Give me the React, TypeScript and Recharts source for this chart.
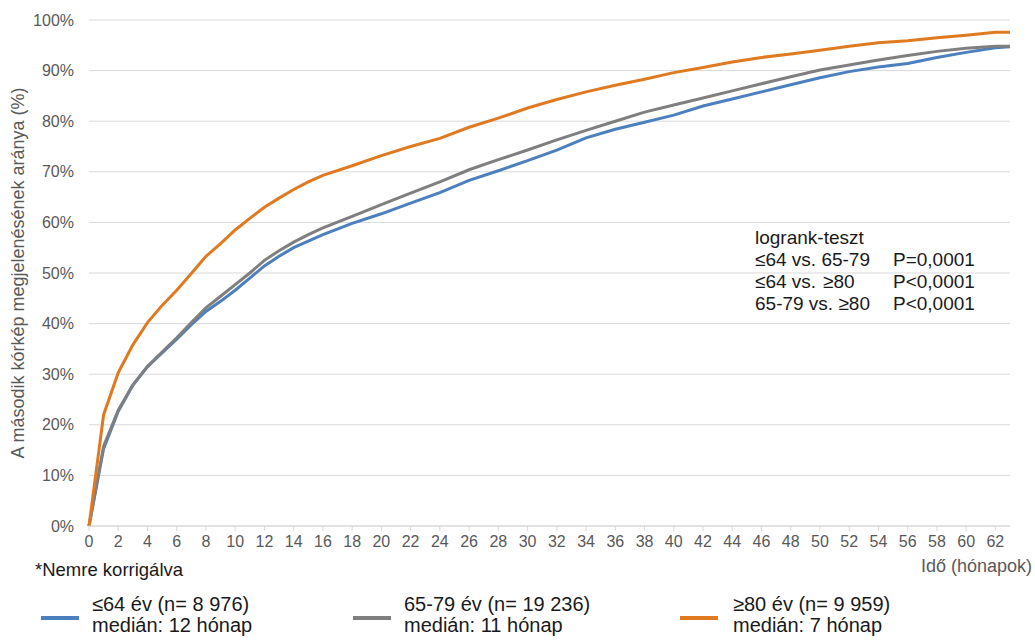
import React from 'react';
import { LineChart, Line, XAxis, YAxis, CartesianGrid } from 'recharts';

// months on the x axis (monthly early on, then every 2 months)
const months = [0, 1, 2, 3, 4, 5, 6, 7, 8, 9, 10, 11, 12, 13, 14, 15, 16, 18, 20, 22, 24, 26, 28, 30, 32, 34, 36, 38, 40, 42, 44, 46, 48, 50, 52, 54, 56, 58, 60, 62, 63];

// cumulative share (%) per age group
const age64 = [0, 15.3, 22.7, 27.8, 31.5, 34.2, 36.9, 39.8, 42.4, 44.4, 46.6, 49, 51.4, 53.3, 55, 56.3, 57.6, 59.8, 61.7, 63.8, 65.9, 68.3, 70.2, 72.2, 74.3, 76.7, 78.4, 79.8, 81.2, 83, 84.4, 85.8, 87.2, 88.6, 89.8, 90.7, 91.4, 92.6, 93.6, 94.5, 94.7];
const age6579 = [0, 15.8, 22.9, 27.9, 31.5, 34.4, 37.2, 40.2, 43.1, 45.4, 47.7, 50, 52.5, 54.4, 56.1, 57.6, 58.9, 61.2, 63.5, 65.8, 68, 70.4, 72.4, 74.3, 76.3, 78.2, 80, 81.8, 83.2, 84.6, 86, 87.4, 88.8, 90.1, 91.1, 92.1, 93, 93.8, 94.4, 94.8, 94.8];
const age80 = [0, 22, 30.3, 35.8, 40.2, 43.6, 46.6, 49.9, 53.3, 55.8, 58.5, 60.8, 63, 64.8, 66.5, 68, 69.3, 71.2, 73.2, 75, 76.6, 78.8, 80.6, 82.6, 84.3, 85.8, 87.1, 88.3, 89.6, 90.6, 91.7, 92.6, 93.3, 94, 94.8, 95.5, 95.9, 96.5, 97, 97.6, 97.6];

const xTicks = [0, 2, 4, 6, 8, 10, 12, 14, 16, 18, 20, 22, 24, 26, 28, 30, 32, 34, 36, 38, 40, 42, 44, 46, 48, 50, 52, 54, 56, 58, 60, 62];
const yTicks = [0, 10, 20, 30, 40, 50, 60, 70, 80, 90, 100];

const legendItems = [
  { line1: '≤64 év (n= 8 976)', line2: 'medián: 12 hónap', color: '#4c7fbd' },
  { line1: '65-79 év (n= 19 236)', line2: 'medián: 11 hónap', color: '#7f7f7f' },
  { line1: '≥80 év (n= 9 959)', line2: 'medián: 7 hónap', color: '#e07a20' },
];

const data = months.map((m, i) => ({
  month: m,
  a: age64[i],
  b: age6579[i],
  c: age80[i],
}));

const font = '"Liberation Sans", Arial, sans-serif';
const legendX = [
  { line: 41, text: 92 },
  { line: 353, text: 404 },
  { line: 680, text: 733 },
];

export default function App() {
  return (
    <div style={{ position: 'absolute', left: 0, top: 0, width: 1035, height: 640, background: '#fff', fontFamily: font }}>
      <LineChart width={1035} height={560} data={data} margin={{ top: 20, right: 25, left: 0, bottom: 0 }}>
        <CartesianGrid vertical={false} stroke="#d9d9d9" />
        <XAxis
          dataKey="month"
          type="number"
          domain={[0, 63]}
          ticks={xTicks}
          interval={0}
          height={34}
          stroke="#d9d9d9"
          tickSize={5}
          tickMargin={5}
          tick={{ fill: '#595959', fontSize: 16, fontFamily: font }}
        />
        <YAxis
          domain={[0, 100]}
          ticks={yTicks}
          width={89}
          axisLine={false}
          tickLine={false}
          tickSize={0}
          tickMargin={15}
          tickFormatter={(v) => `${v}%`}
          tick={{ fill: '#595959', fontSize: 16, fontFamily: font }}
          label={{
            value: 'A második kórkép megjelenésének aránya (%)',
            angle: -90,
            position: 'insideLeft',
            offset: 18,
            style: { textAnchor: 'middle', fill: '#595959', fontSize: 18, fontFamily: font },
          }}
        />
        <Line type="linear" dataKey="a" stroke="#4c7fbd" strokeWidth={3} dot={false} isAnimationActive={false} />
        <Line type="linear" dataKey="b" stroke="#7f7f7f" strokeWidth={3} dot={false} isAnimationActive={false} />
        <Line type="linear" dataKey="c" stroke="#e07a20" strokeWidth={3} dot={false} isAnimationActive={false} />
      </LineChart>

      {/* logrank annotation */}
      <div style={{ position: 'absolute', left: 755, top: 227, fontSize: 19, lineHeight: '22px', color: '#1a1a1a', whiteSpace: 'nowrap' }}>
        <div>logrank-teszt</div>
        <div style={{ position: 'relative', height: 22 }}>
          <span>≤64 vs. 65-79</span>
          <span style={{ position: 'absolute', left: 138 }}>P=0,0001</span>
        </div>
        <div style={{ position: 'relative', height: 22 }}>
          <span>≤64 vs.</span>
          <span style={{ position: 'absolute', left: 68 }}>≥80</span>
          <span style={{ position: 'absolute', left: 138 }}>P&lt;0,0001</span>
        </div>
        <div style={{ position: 'relative', height: 22 }}>
          <span>65-79 vs. ≥80</span>
          <span style={{ position: 'absolute', left: 138 }}>P&lt;0,0001</span>
        </div>
      </div>

      <div style={{ position: 'absolute', right: 3, top: 556, fontSize: 18, color: '#595959' }}>Idő (hónapok)</div>
      <div style={{ position: 'absolute', left: 35, top: 559, fontSize: 18.5, color: '#1a1a1a' }}>*Nemre korrigálva</div>

      {legendItems.map((it, i) => (
        <div key={i}>
          <div style={{ position: 'absolute', left: legendX[i].line, top: 616, width: 38, height: 4, background: it.color }} />
          <div style={{ position: 'absolute', left: legendX[i].text, top: 594, fontSize: 20, lineHeight: '21px', color: '#1a1a1a', whiteSpace: 'nowrap' }}>
            <div>{it.line1}</div>
            <div>{it.line2}</div>
          </div>
        </div>
      ))}
    </div>
  );
}
